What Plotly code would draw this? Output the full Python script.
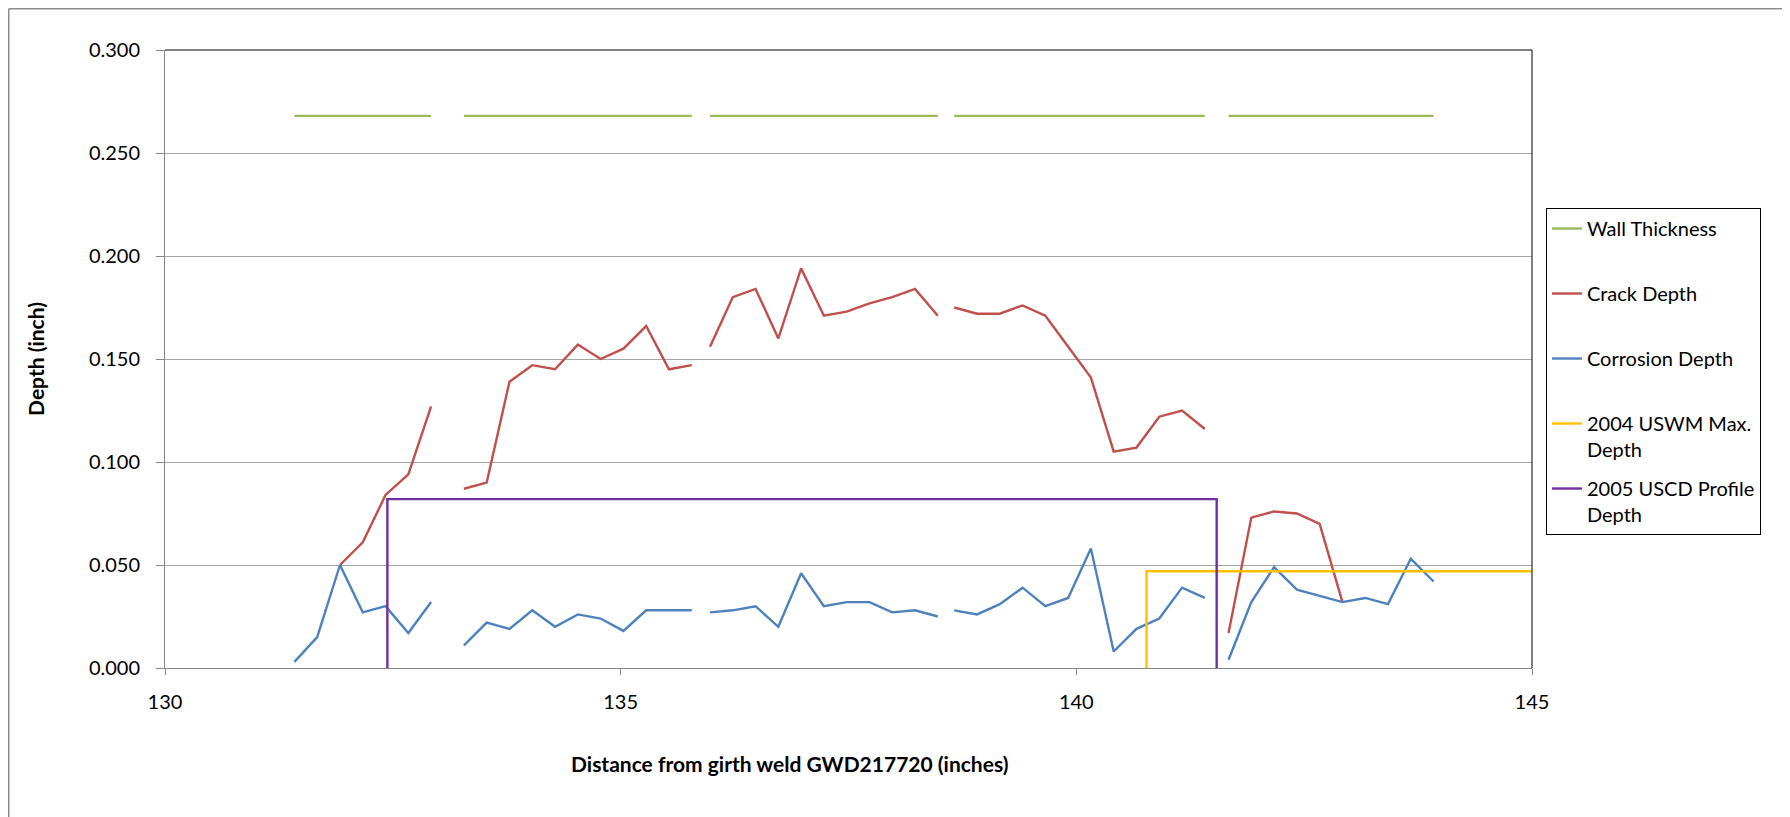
import plotly.graph_objects as go

# Distance from girth weld (inches); None marks a break between scan segments
distance = [131.42, 131.67, 131.92, 132.17, 132.42, 132.67, 132.92, None,
            133.28, 133.53, 133.78, 134.03, 134.28, 134.53, 134.78, 135.03, 135.28, 135.53, 135.78, None,
            135.98, 136.23, 136.48, 136.73, 136.98, 137.23, 137.48, 137.73, 137.98, 138.23, 138.48, None,
            138.66, 138.91, 139.16, 139.41, 139.66, 139.91, 140.16, 140.41, 140.66, 140.91, 141.16, 141.41, None,
            141.67, 141.92, 142.17, 142.42, 142.67, 142.92, 143.17, 143.42, 143.67, 143.92]

wall_thickness = [0.268, 0.268, 0.268, 0.268, 0.268, 0.268, 0.268, None,
                  0.268, 0.268, 0.268, 0.268, 0.268, 0.268, 0.268, 0.268, 0.268, 0.268, 0.268, None,
                  0.268, 0.268, 0.268, 0.268, 0.268, 0.268, 0.268, 0.268, 0.268, 0.268, 0.268, None,
                  0.268, 0.268, 0.268, 0.268, 0.268, 0.268, 0.268, 0.268, 0.268, 0.268, 0.268, 0.268, None,
                  0.268, 0.268, 0.268, 0.268, 0.268, 0.268, 0.268, 0.268, 0.268, 0.268]

crack_depth = [None, None, 0.050, 0.061, 0.084, 0.094, 0.127, None,
               0.087, 0.090, 0.139, 0.147, 0.145, 0.157, 0.150, 0.155, 0.166, 0.145, 0.147, None,
               0.156, 0.180, 0.184, 0.160, 0.194, 0.171, 0.173, 0.177, 0.180, 0.184, 0.171, None,
               0.175, 0.172, 0.172, 0.176, 0.171, 0.156, 0.141, 0.105, 0.107, 0.122, 0.125, 0.116, None,
               0.017, 0.073, 0.076, 0.075, 0.070, 0.032, None, None, None, None]

corrosion_depth = [0.003, 0.015, 0.050, 0.027, 0.030, 0.017, 0.032, None,
                   0.011, 0.022, 0.019, 0.028, 0.020, 0.026, 0.024, 0.018, 0.028, 0.028, 0.028, None,
                   0.027, 0.028, 0.030, 0.020, 0.046, 0.030, 0.032, 0.032, 0.027, 0.028, 0.025, None,
                   0.028, 0.026, 0.031, 0.039, 0.030, 0.034, 0.058, 0.008, 0.019, 0.024, 0.039, 0.034, None,
                   0.004, 0.032, 0.049, 0.038, 0.035, 0.032, 0.034, 0.031, 0.053, 0.042]

uswm_2004_x = [140.77, 140.77, 145.0]
uswm_2004_y = [0.0, 0.047, 0.047]

uscd_2005_x = [132.44, 132.44, 141.54, 141.54]
uscd_2005_y = [0.0, 0.082, 0.082, 0.0]

y_ticks = [0.0, 0.05, 0.10, 0.15, 0.20, 0.25, 0.30]
x_ticks = [130, 135, 140, 145]

FONT = "Lato"
LW = 2.4

fig = go.Figure()
fig.add_trace(go.Scatter(x=distance, y=wall_thickness, mode="lines", name="Wall Thickness<br> ",
                         legendgroup="a", line=dict(color="#9BBB59", width=LW)))
fig.add_trace(go.Scatter(x=distance, y=crack_depth, mode="lines", name="Crack Depth<br> ",
                         legendgroup="b", line=dict(color="#C0504D", width=LW)))
fig.add_trace(go.Scatter(x=distance, y=corrosion_depth, mode="lines", name="Corrosion Depth<br> ",
                         legendgroup="c", line=dict(color="#4F81BD", width=LW)))
fig.add_trace(go.Scatter(x=uswm_2004_x, y=uswm_2004_y, mode="lines", name="2004 USWM Max.<br>Depth",
                         legendgroup="d", line=dict(color="#FFC000", width=LW), cliponaxis=False))
fig.add_trace(go.Scatter(x=uscd_2005_x, y=uscd_2005_y, mode="lines", name="2005 USCD Profile<br>Depth",
                         legendgroup="e", line=dict(color="#7030A0", width=LW), cliponaxis=False))

fig.update_layout(
    width=1790, height=817,
    margin=dict(l=157, r=266, t=42, b=157, autoexpand=False),
    paper_bgcolor="white", plot_bgcolor="white",
    font=dict(family=FONT, size=20, color="black"),
    showlegend=True,
    legend=dict(x=1.0102, y=0.7443, xanchor="left", yanchor="top",
                bordercolor="black", borderwidth=1, bgcolor="white",
                tracegroupgap=10, valign="top", font=dict(size=20, family=FONT),
                traceorder="grouped"),
    xaxis=dict(range=[130, 145], tickvals=x_ticks, ticks="outside", ticklen=6,
               tickcolor="#868686", showline=True, linecolor="#868686", linewidth=1,
               showgrid=False, zeroline=False, ticklabelstandoff=10),
    yaxis=dict(range=[0, 0.3], tickvals=y_ticks, tickformat=".3f", ticks="outside", ticklen=8,
               tickcolor="#868686", showline=True, linecolor="#868686", linewidth=1,
               showgrid=True, gridcolor="#A6A6A6", gridwidth=1, zeroline=False,
               ticklabelstandoff=12,
               title=dict(text="<b>Depth (inch)</b>", font=dict(size=21, family=FONT), standoff=38)),
    annotations=[
        dict(text="<b>Distance from girth weld GWD217720 (inches)</b>", xref="paper", yref="paper",
             x=0.4565, y=-0.1553, xanchor="center", yanchor="middle", showarrow=False,
             font=dict(size=21, family=FONT)),
    ],
    shapes=[
        dict(type="line", xref="paper", yref="paper", x0=0, x1=1, y0=1, y1=1,
             line=dict(color="black", width=1)),
        dict(type="line", xref="paper", yref="paper", x0=1, x1=1, y0=0, y1=1,
             line=dict(color="black", width=1)),
        dict(type="line", xref="paper", yref="paper", x0=-0.1143, x1=-0.1143, y0=-0.3, y1=1.0667,
             line=dict(color="#8C8C8C", width=1.5)),
        dict(type="line", xref="paper", yref="paper", x0=-0.1143, x1=1.25, y0=1.0667, y1=1.0667,
             line=dict(color="#8C8C8C", width=1.5)),
    ],
)

fig.write_html("out.html")
